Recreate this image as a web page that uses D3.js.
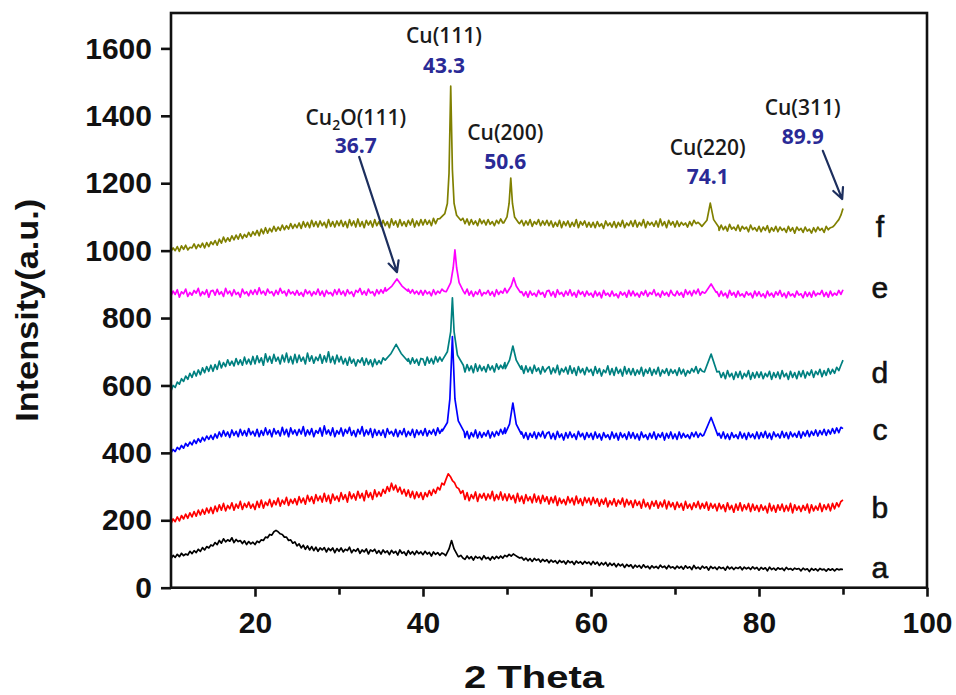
<!DOCTYPE html>
<html>
<head>
<meta charset="utf-8">
<script src="https://cdn.jsdelivr.net/npm/d3@7"></script>
<style>
  body { margin: 0; background: #fff; }
  svg { display: block; }
</style>
</head>
<body>
<svg id="chart" width="956" height="695"></svg>
<script>
// XRD patterns of samples a–f, intensity sampled every 0.25° from 2θ = 10° to 90°
const gridStart = 10;
const gridStep = 0.25;

const seriesNames = ["a", "b", "c", "d", "e", "f"];
const seriesColors = ["#000000", "#ff0000", "#0000ff", "#008080", "#ff00ff", "#808000"];

const gridA = [
  86, 96, 90, 99, 92, 102, 95, 100, 97, 108, 101, 110, 104, 114, 108, 119, 112, 122, 118, 127,
  124, 134, 128, 140, 132, 145, 136, 142, 138, 148, 134, 143, 137, 140, 131, 139, 128, 137, 130, 135,
  128, 138, 134, 142, 140, 150, 148, 158, 156, 166, 170, 166, 160, 158, 150, 150, 140, 142, 132, 136,
  124, 130, 118, 126, 114, 124, 112, 122, 110, 120, 108, 118, 112, 119, 106, 117, 110, 118, 104, 116,
  108, 118, 106, 114, 110, 120, 104, 113, 108, 116, 102, 112, 106, 115, 100, 112, 108, 114, 102, 110,
  100, 112, 104, 109, 98, 111, 103, 108, 97, 112, 102, 106, 96, 110, 100, 107, 98, 109, 101, 106,
  98, 108, 100, 105, 94, 106, 99, 104, 96, 103, 100, 106, 115, 130, 140, 120, 100, 92, 96, 88,
  84, 94, 86, 92, 82, 93, 88, 91, 83, 95, 86, 90, 82, 92, 85, 93, 87, 94, 88, 96,
  92, 99, 94, 100, 96, 92, 88, 90, 82, 88, 80, 86, 78, 87, 81, 85, 76, 84, 78, 83,
  74, 82, 76, 80, 72, 81, 75, 79, 70, 80, 74, 78, 69, 79, 73, 77, 70, 78, 72, 76,
  68, 78, 70, 76, 66, 74, 68, 75, 64, 73, 66, 72, 62, 71, 65, 70, 60, 69, 63, 68,
  58, 67, 61, 66, 58, 68, 60, 64, 56, 65, 59, 63, 57, 67, 60, 64, 56, 66, 59, 62,
  56, 64, 58, 63, 55, 65, 58, 62, 54, 66, 57, 61, 55, 64, 58, 62, 52, 63, 57, 61,
  54, 62, 57, 60, 52, 63, 56, 61, 54, 60, 57, 62, 53, 61, 56, 60, 54, 62, 56, 60,
  52, 60, 55, 59, 50, 61, 54, 58, 52, 59, 55, 58, 51, 60, 54, 57, 52, 58, 55, 57,
  50, 58, 53, 56, 48, 57, 52, 56, 50, 57, 53, 55, 49, 56, 52, 56, 50, 56, 53, 55,
  54
];

const gridB = [
  190, 204, 196, 210, 198, 214, 204, 218, 206, 222, 210, 226, 212, 230, 216, 232, 218, 236, 222, 238,
  220, 242, 226, 246, 230, 250, 228, 244, 234, 252, 230, 248, 236, 256, 232, 250, 238, 254, 236, 248,
  232, 256, 238, 260, 236, 254, 244, 262, 240, 258, 246, 266, 242, 260, 248, 268, 244, 262, 250, 264,
  246, 270, 252, 266, 248, 274, 256, 270, 250, 276, 258, 272, 254, 280, 256, 274, 250, 278, 260, 272,
  256, 282, 262, 276, 254, 284, 264, 278, 260, 286, 266, 280, 258, 288, 268, 282, 262, 290, 270, 284,
  272, 292, 280, 300, 286, 310, 290, 304, 284, 298, 278, 292, 272, 290, 268, 286, 264, 284, 268, 282,
  262, 282, 270, 288, 274, 292, 280, 298, 290, 310, 305, 322, 338, 330, 318, 312, 298, 294, 280, 288,
  262, 282, 258, 276, 264, 284, 256, 278, 266, 280, 260, 278, 264, 286, 258, 276, 262, 284, 260, 278,
  258, 278, 262, 274, 252, 280, 256, 272, 250, 276, 258, 270, 252, 278, 254, 272, 250, 274, 256, 270,
  248, 268, 252, 272, 244, 266, 250, 262, 246, 270, 252, 266, 246, 272, 250, 264, 244, 268, 252, 266,
  246, 268, 250, 264, 242, 262, 248, 266, 240, 258, 246, 264, 242, 260, 248, 266, 240, 262, 246, 258,
  238, 260, 244, 256, 236, 262, 240, 252, 234, 256, 242, 258, 236, 254, 240, 260, 234, 256, 240, 252,
  232, 254, 238, 250, 230, 256, 236, 248, 232, 252, 238, 256, 234, 250, 236, 254, 230, 250, 236, 248,
  228, 250, 234, 246, 226, 252, 232, 244, 224, 248, 230, 252, 228, 246, 232, 250, 226, 248, 230, 244,
  226, 246, 230, 242, 222, 250, 228, 244, 224, 246, 230, 248, 226, 244, 228, 250, 222, 246, 230, 242,
  226, 244, 230, 248, 222, 246, 228, 242, 230, 250, 226, 246, 232, 248, 228, 250, 234, 252, 240, 256,
  260
];

const gridC = [
  400, 410, 404, 416, 410, 422, 414, 428, 420, 432, 424, 438, 428, 442, 432, 446, 436, 450, 440, 452,
  440, 456, 444, 462, 448, 466, 450, 462, 446, 468, 452, 464, 448, 470, 452, 466, 450, 472, 454, 464,
  450, 470, 448, 466, 452, 474, 454, 468, 448, 472, 456, 466, 450, 476, 454, 470, 448, 474, 456, 468,
  452, 470, 456, 478, 450, 468, 454, 472, 448, 466, 458, 474, 450, 480, 456, 468, 452, 474, 448, 466,
  456, 474, 450, 470, 458, 476, 452, 466, 448, 470, 456, 478, 450, 468, 454, 472, 446, 470, 452, 466,
  452, 468, 446, 472, 456, 464, 450, 470, 448, 466, 454, 472, 448, 464, 452, 470, 446, 468, 454, 466,
  452, 472, 450, 466, 456, 470, 452, 474, 458, 470, 470, 490, 520, 745, 560, 495, 470, 475, 456, 468,
  446, 464, 442, 460, 448, 468, 444, 462, 446, 460, 450, 466, 444, 462, 448, 464, 452, 470, 456, 474,
  470, 485, 520, 548, 485, 470, 456, 462, 444, 460, 440, 458, 446, 462, 442, 460, 448, 464, 444, 458,
  462, 442, 458, 440, 464, 446, 456, 438, 460, 444, 462, 446, 456, 440, 464, 448, 458, 440, 460, 446,
  458, 440, 462, 444, 456, 438, 460, 446, 454, 440, 462, 444, 458, 438, 460, 446, 456, 440, 462, 444,
  460, 442, 456, 438, 462, 446, 454, 440, 458, 444, 462, 440, 456, 446, 460, 438, 458, 444, 462, 442,
  456, 440, 462, 444, 458, 446, 454, 442, 460, 448, 462, 446, 458, 450, 470, 490, 505, 480, 462, 456,
  440, 458, 444, 462, 442, 456, 440, 460, 446, 454, 442, 462, 444, 458, 440, 460, 446, 456, 442, 462,
  442, 460, 446, 464, 444, 458, 440, 462, 448, 456, 444, 464, 446, 460, 442, 462, 448, 458, 446, 464,
  444, 462, 450, 466, 448, 464, 452, 468, 450, 466, 454, 470, 452, 468, 456, 472, 458, 474, 460, 476,
  472
];

const gridD = [
  584, 600, 594, 610, 604, 620, 612, 628, 618, 636, 624, 642, 628, 646, 632, 652, 638, 656, 642, 660,
  642, 662, 648, 672, 652, 668, 656, 676, 660, 672, 658, 680, 662, 676, 660, 684, 664, 678, 662, 686,
  664, 688, 668, 682, 660, 694, 670, 686, 666, 692, 672, 684, 664, 690, 670, 696, 668, 686, 664, 692,
  668, 690, 672, 684, 664, 696, 672, 688, 666, 684, 674, 692, 666, 688, 670, 700, 668, 686, 664, 690,
  670, 686, 664, 680, 660, 684, 666, 678, 658, 676, 668, 682, 660, 680, 662, 676, 656, 678, 662, 674,
  664, 682, 670, 690, 680, 700, 700, 722, 704, 694, 684, 690, 672, 680, 664, 682, 666, 678, 660, 680,
  678, 660, 684, 666, 680, 664, 686, 670, 684, 672, 760, 860, 760, 690, 680, 666, 660, 674, 648, 664,
  640, 662, 644, 658, 638, 664, 642, 660, 644, 656, 640, 662, 646, 658, 640, 664, 648, 660, 650, 668,
  665, 690, 717, 700, 675, 660, 648, 658, 636, 658, 640, 654, 636, 660, 642, 652, 634, 656, 640, 650,
  656, 634, 652, 638, 660, 632, 650, 640, 654, 634, 658, 636, 652, 630, 656, 638, 650, 632, 654, 640,
  648, 630, 656, 636, 650, 628, 646, 638, 658, 632, 650, 630, 654, 636, 648, 628, 656, 634, 650, 632,
  650, 630, 646, 634, 654, 628, 648, 636, 652, 630, 648, 634, 654, 628, 646, 636, 650, 630, 648, 636,
  646, 630, 652, 634, 648, 628, 644, 636, 650, 640, 656, 636, 650, 642, 670, 680, 693, 660, 640, 646,
  622, 642, 624, 638, 620, 644, 626, 636, 618, 640, 624, 642, 620, 636, 626, 644, 618, 638, 622, 640,
  624, 640, 620, 636, 626, 642, 618, 638, 624, 640, 620, 644, 626, 636, 618, 642, 624, 638, 620, 642,
  626, 644, 622, 640, 630, 646, 624, 642, 632, 648, 626, 644, 630, 650, 634, 648, 636, 654, 644, 660,
  675
];

const gridE = [
  866, 880, 870, 884, 862, 878, 872, 886, 864, 876, 868, 882, 874, 888, 866, 878, 870, 884, 862, 880,
  882, 868, 885, 870, 878, 864, 888, 872, 880, 866, 884, 870, 876, 862, 886, 872, 878, 866, 882, 870,
  884, 870, 890, 872, 880, 868, 886, 874, 878, 866, 882, 870, 888, 874, 880, 866, 884, 872, 878, 868,
  882, 868, 876, 864, 884, 872, 880, 866, 878, 870, 886, 868, 880, 864, 882, 872, 876, 866, 884, 870,
  886, 870, 880, 866, 884, 872, 878, 864, 882, 876, 888, 870, 880, 868, 886, 874, 878, 866, 884, 872,
  884, 874, 890, 880, 892, 896, 904, 912, 914, 906, 896, 890, 882, 886, 874, 884, 872, 880, 870, 882,
  868, 882, 872, 878, 866, 884, 870, 880, 874, 886, 880, 878, 950, 1002, 950, 905, 882, 886, 870, 880,
  872, 886, 868, 880, 864, 878, 870, 884, 866, 876, 872, 882, 868, 878, 864, 884, 870, 880, 874, 888,
  880, 900, 910, 919, 895, 886, 876, 878, 866, 878, 862, 880, 868, 874, 864, 882, 870, 876, 862, 880,
  882, 866, 878, 862, 884, 870, 876, 864, 880, 868, 884, 866, 876, 862, 882, 870, 878, 864, 880, 868,
  874, 862, 880, 866, 876, 860, 882, 868, 874, 864, 880, 866, 872, 860, 878, 868, 876, 862, 882, 866,
  880, 866, 874, 862, 878, 868, 882, 864, 876, 870, 884, 866, 874, 862, 880, 868, 876, 864, 882, 870,
  866, 880, 868, 876, 862, 884, 870, 880, 866, 882, 872, 886, 868, 878, 874, 888, 901, 882, 870, 880,
  878, 864, 880, 866, 874, 860, 882, 868, 876, 862, 880, 866, 872, 862, 878, 868, 874, 860, 880, 866,
  878, 864, 872, 860, 880, 866, 874, 862, 878, 868, 882, 864, 874, 860, 878, 866, 872, 862, 880, 868,
  872, 860, 878, 864, 876, 862, 880, 866, 874, 870, 882, 864, 876, 862, 880, 866, 874, 868, 882, 870,
  884
];

const gridF = [
  998, 1008, 1000, 1012, 998, 1014, 1004, 1016, 1002, 1010, 1008, 1020, 1006, 1018, 1010, 1022, 1008, 1024, 1012, 1026,
  1018, 1030, 1016, 1034, 1022, 1040, 1026, 1038, 1028, 1044, 1032, 1046, 1034, 1050, 1036, 1048, 1040, 1054, 1042, 1056,
  1046, 1060, 1044, 1064, 1050, 1068, 1052, 1066, 1056, 1072, 1058, 1070, 1060, 1076, 1062, 1074, 1064, 1080, 1066, 1078,
  1068, 1082, 1066, 1086, 1070, 1084, 1068, 1090, 1072, 1086, 1070, 1088, 1074, 1084, 1068, 1092, 1072, 1086, 1070, 1088,
  1074, 1090, 1072, 1086, 1068, 1092, 1074, 1088, 1070, 1094, 1072, 1086, 1068, 1090, 1076, 1088, 1070, 1092, 1074, 1086,
  1072, 1090, 1074, 1086, 1068, 1094, 1076, 1088, 1070, 1092, 1074, 1086, 1072, 1090, 1076, 1094, 1070, 1088, 1074, 1092,
  1076, 1092, 1078, 1090, 1074, 1096, 1080, 1094, 1084, 1100, 1088, 1102, 1110, 1488, 1240, 1110, 1094, 1098, 1086, 1096,
  1080, 1094, 1076, 1092, 1078, 1088, 1074, 1094, 1080, 1090, 1076, 1092, 1078, 1086, 1074, 1090, 1080, 1094, 1082, 1096,
  1100, 1140, 1215, 1140, 1100, 1086, 1080, 1090, 1074, 1088, 1076, 1092, 1072, 1086, 1078, 1092, 1074, 1088, 1076, 1090,
  1074, 1088, 1070, 1084, 1072, 1090, 1068, 1086, 1074, 1088, 1070, 1084, 1072, 1092, 1068, 1086, 1076, 1088, 1070, 1084,
  1070, 1084, 1068, 1086, 1072, 1080, 1066, 1088, 1074, 1082, 1070, 1086, 1068, 1084, 1072, 1090, 1068, 1082, 1074, 1088,
  1072, 1090, 1070, 1084, 1074, 1092, 1068, 1086, 1076, 1084, 1072, 1088, 1070, 1094, 1074, 1086, 1068, 1090, 1076, 1086,
  1070, 1088, 1072, 1084, 1076, 1082, 1070, 1086, 1074, 1090, 1080, 1084, 1078, 1141, 1092, 1080, 1076, 1068, 1078, 1066,
  1074, 1060, 1076, 1062, 1072, 1058, 1078, 1064, 1070, 1060, 1076, 1058, 1072, 1064, 1070, 1056, 1076, 1062, 1068, 1058,
  1072, 1056, 1070, 1060, 1074, 1054, 1068, 1058, 1072, 1056, 1070, 1060, 1066, 1054, 1072, 1058, 1068, 1052, 1070, 1060,
  1066, 1054, 1070, 1058, 1064, 1052, 1068, 1056, 1070, 1060, 1066, 1054, 1072, 1062, 1068, 1070, 1076, 1084, 1092, 1105,
  1125
];

// Sharp reflections sampled more finely: [2θ, intensity]
const peaksA = [
  [[42.7, 95], [43.1, 115], [43.4, 140], [43.7, 115], [44.2, 92]]
];
const peaksB = [];
const peaksC = [
  [[42.3, 465], [42.9, 490], [43.2, 560], [43.5, 745], [43.8, 560], [44.2, 495], [44.9, 462]],
  [[49.8, 458], [50.3, 485], [50.7, 548], [51.1, 485], [51.7, 456]],
  [[73.4, 452], [74.3, 505], [75.1, 452]]
];
const peaksD = [
  [[35.5, 675], [36.2, 695], [36.8, 722], [37.4, 695], [38.2, 672]],
  [[42.3, 675], [42.9, 700], [43.3, 760], [43.5, 860], [43.7, 760], [44.1, 690], [44.8, 660]],
  [[49.8, 650], [50.3, 675], [50.7, 717], [51.1, 675], [51.7, 648]],
  [[73.5, 640], [74.3, 693], [75.0, 640]]
];
const peaksE = [
  [[35.6, 880], [36.3, 895], [36.9, 916], [37.5, 895], [38.2, 880]],
  [[42.8, 880], [43.3, 905], [43.6, 950], [43.8, 1002], [44.0, 950], [44.3, 905], [44.8, 880]],
  [[50.0, 875], [50.5, 895], [50.8, 919], [51.1, 895], [51.6, 876]],
  [[73.6, 875], [74.3, 901], [74.9, 876]]
];
const peaksF = [
  [[42.0, 1095], [42.6, 1110], [42.9, 1140], [43.1, 1230], [43.3, 1488], [43.5, 1240], [43.7, 1140], [44.0, 1105], [44.5, 1090]],
  [[49.6, 1082], [50.0, 1100], [50.25, 1140], [50.45, 1215], [50.65, 1140], [50.9, 1100], [51.4, 1082]],
  [[73.2, 1072], [73.8, 1090], [74.2, 1141], [74.6, 1092], [75.2, 1070]]
];

const seriesGrids = [gridA, gridB, gridC, gridD, gridE, gridF];
const seriesPeaks = [peaksA, peaksB, peaksC, peaksD, peaksE, peaksF];

// Axis ticks
const xMajorTicks = [20, 40, 60, 80, 100];
const xMinorTicks = [30, 50, 70, 90];
const yTicks = [0, 200, 400, 600, 800, 1000, 1200, 1400, 1600];

// Reflection annotations
const reflectionNames = ["Cu(111)", "Cu(200)", "Cu(220)", "Cu(311)", "Cu₂O(111)"];
const reflectionAngles = ["43.3", "50.6", "74.1", "89.9", "36.7"];

// ---------------------------------------------------------------------------
const svg = d3.select("#chart");
const x = d3.scaleLinear().domain([10, 100]).range([171, 927]);
const y = d3.scaleLinear().domain([0, 1705]).range([587.7, 13]);

const axisFont = "'Liberation Sans', Arial, sans-serif";
const noteFont = "'Open Sans', 'Noto Sans', sans-serif";

function buildSeries(grid, peaks) {
  let pts = grid.map((v, i) => [gridStart + gridStep * i, v]);
  peaks.forEach(group => {
    const lo = group[0][0], hi = group[group.length - 1][0];
    pts = pts.filter(p => p[0] < lo || p[0] > hi).concat(group);
  });
  return pts.sort((p, q) => p[0] - q[0]);
}

const line = d3.line().x(d => x(d[0])).y(d => y(d[1]));

const traces = svg.append("g");
seriesGrids.forEach((grid, i) => {
  traces.append("path")
    .datum(buildSeries(grid, seriesPeaks[i]))
    .attr("d", line)
    .attr("fill", "none")
    .attr("stroke", seriesColors[i])
    .attr("stroke-width", 1.7)
    .attr("stroke-linejoin", "round");
});

// Frame
const [x0, x1] = x.range();
const [yb, yt] = y.range();
svg.append("rect")
  .attr("x", x0).attr("y", yt)
  .attr("width", x1 - x0).attr("height", yb - yt)
  .attr("fill", "none").attr("stroke", "#111").attr("stroke-width", 2.6);

// Bottom axis
const xAxisG = svg.append("g").attr("transform", `translate(0,${yb})`);
xAxisG.call(d3.axisBottom(x).tickValues(xMajorTicks).tickSize(9).tickPadding(15)
  .tickSizeOuter(0).tickFormat(d3.format("d")));
xAxisG.append("g").call(d3.axisBottom(x).tickValues(xMinorTicks).tickSize(7).tickFormat("").tickSizeOuter(0));

// Left axis
const yAxisG = svg.append("g").attr("transform", `translate(${x0},0)`);
yAxisG.call(d3.axisLeft(y).tickValues(yTicks).tickSize(10).tickPadding(9)
  .tickSizeOuter(0).tickFormat(d3.format("d")));

svg.selectAll(".domain").remove();
svg.selectAll(".tick line").attr("stroke", "#111").attr("stroke-width", 2.6);
svg.selectAll(".tick text")
  .attr("font-family", axisFont)
  .attr("font-weight", "bold")
  .attr("font-size", 30)
  .attr("fill", "#111");

// Axis titles
svg.append("text")
  .attr("transform", `translate(38,${(yb + yt) / 2 + 10}) rotate(-90)`)
  .attr("text-anchor", "middle")
  .attr("font-family", axisFont).attr("font-weight", "bold").attr("font-size", 32)
  .attr("textLength", 223).attr("lengthAdjust", "spacingAndGlyphs")
  .attr("fill", "#111")
  .text("Intensity(a.u.)");

svg.append("text")
  .attr("x", 534).attr("y", 688)
  .attr("text-anchor", "middle")
  .attr("font-family", axisFont).attr("font-weight", "bold").attr("font-size", 31)
  .attr("textLength", 140).attr("lengthAdjust", "spacingAndGlyphs")
  .attr("fill", "#111")
  .text("2 Theta");

// Sample letters at the right end of each trace
const letterAnchors = [29, 207, 438, 607, 859, 1040];
seriesNames.forEach((n, i) => {
  svg.append("text")
    .attr("x", x(94.4)).attr("y", y(letterAnchors[i]))
    .attr("text-anchor", "middle")
    .attr("font-family", axisFont).attr("font-size", 30)
    .attr("stroke", "#111").attr("stroke-width", 0.6)
    .attr("fill", "#111")
    .text(n);
});

// Reflection labels: [2θ centre, name baseline, value baseline] in data units
const noteAnchors = [
  [42.5, 1616, 1527],
  [49.8, 1328, 1242],
  [73.9, 1283, 1197],
  [85.2, 1402, 1316],
  [32.0, 1372, 1289]
];
const notes = svg.append("g");
reflectionNames.forEach((name, i) => {
  const [cx, ny, vy] = noteAnchors[i];
  const t = notes.append("text")
    .attr("x", x(cx)).attr("y", y(ny))
    .attr("text-anchor", "middle")
    .attr("font-family", noteFont).attr("font-size", 21).attr("font-weight", 600)
    .attr("fill", "#1a1a1a");
  if (name.includes("₂")) {
    const [pre, post] = name.split("₂");
    t.append("tspan").text(pre);
    t.append("tspan").attr("font-size", 14).attr("dy", 5).text("2");
    t.append("tspan").attr("dy", -5).text(post);
  } else {
    t.text(name);
  }
  notes.append("text")
    .attr("x", x(cx)).attr("y", y(vy))
    .attr("text-anchor", "middle")
    .attr("font-family", noteFont).attr("font-weight", "bold").attr("font-size", 21)
    .attr("fill", "#2a2a96")
    .text(reflectionAngles[i]);
});

// Pointer arrows: [start 2θ, start I, end 2θ, end I]
const arrowSegments = [
  [32.4, 1278, 36.9, 936],
  [87.6, 1296, 89.9, 1153]
];
arrowSegments.forEach(([ax, ay, bx, by]) => {
  const sx = x(ax), sy = y(ay), ex = x(bx), ey = y(by);
  const ang = Math.atan2(ey - sy, ex - sx);
  const len = 12, spread = 0.45;
  const w1 = [ex - len * Math.cos(ang - spread), ey - len * Math.sin(ang - spread)];
  const w2 = [ex - len * Math.cos(ang + spread), ey - len * Math.sin(ang + spread)];
  svg.append("path")
    .attr("d", `M${sx},${sy}L${ex},${ey}M${w1[0]},${w1[1]}L${ex},${ey}L${w2[0]},${w2[1]}`)
    .attr("fill", "none")
    .attr("stroke", "#1d2f5e")
    .attr("stroke-width", 2.2)
    .attr("stroke-linecap", "round")
    .attr("stroke-linejoin", "round");
});
</script>
</body>
</html>
